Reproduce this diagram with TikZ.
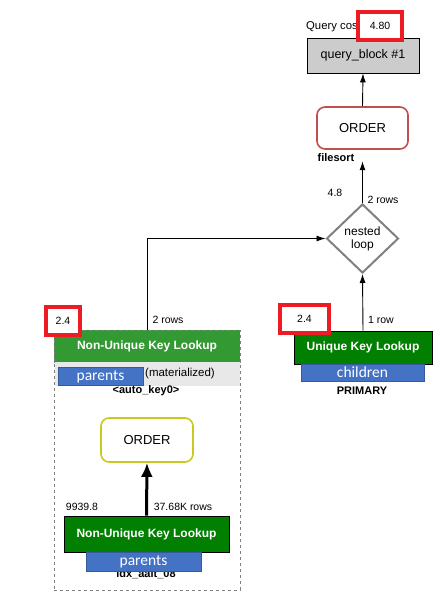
\documentclass[tikz,border=0pt]{standalone}
\usepackage{fontspec}
\setmainfont{Liberation Sans}
\newfontfamily\tblfont{Carlito}
\usetikzlibrary{shapes.geometric,arrows.meta}

\definecolor{costred}{HTML}{ED1C24}
\definecolor{sortred}{HTML}{C0504D}
\definecolor{sortyellow}{HTML}{C8C81E}
\definecolor{keygreen}{HTML}{007F00}
\definecolor{hdrgreen}{HTML}{339933}
\definecolor{tblblue}{HTML}{4472C4}
\definecolor{bandgray}{HTML}{E8E8E8}

\tikzset{
  lbl/.style={inner sep=0pt, font=\fontsize{10.5}{12}\selectfont},
  boldlbl/.style={inner sep=0pt, font=\bfseries\fontsize{11}{12}\selectfont},
  costbox/.style={draw=costred, line width=3.5pt, fill=white, font=\fontsize{10.5}{12}\selectfont},
  qbox/.style={draw=black, line width=0.8pt, fill=gray!40, minimum width=112pt, minimum height=35pt, font=\fontsize{12.5}{14}\selectfont},
  sortbox/.style={line width=1.6pt, rounded corners=8pt, fill=white, font=\fontsize{13}{15}\selectfont},
  keybox/.style={draw=black, line width=0.8pt, fill=keygreen, text=white, font=\bfseries\fontsize{12}{14}\selectfont},
  tblbox/.style={draw=tblblue!80!black, line width=0.5pt, fill=tblblue, text=white, inner sep=0pt, font=\tblfont\fontsize{15.5}{16}\selectfont},
  loopnode/.style={diamond, draw=gray, line width=2pt, fill=white, inner sep=0pt, align=center, minimum width=72pt, minimum height=69pt, font=\fontsize{12}{13}\selectfont},
  conn/.style={->, line width=0.9pt}
}

\begin{document}
\begin{tikzpicture}[x=1pt, y=-1pt, >={Latex[length=9pt,width=6pt]}]
  \useasboundingbox (0,0) rectangle (445,606);

  % top: query block and final sort
  \node[lbl, anchor=west, font=\fontsize{11.3}{13}\selectfont] (costlbl) at (306,27) {Query cost};
  \node[qbox] (qblock) at (363,55.5) {query\_block \#1};
  \node[sortbox, draw=sortred, minimum width=91pt, minimum height=42pt] (topsort) at (362.5,128) {ORDER};
  \node[boldlbl] (filesort) at (336,158) {filesort};
  \node[loopnode] (nestloop) at (362.5,238.5) {nested\\loop};
  \node[lbl] (loopcost) at (335,193) {4.8};
  \node[lbl] (looprows) at (383,200) {2 rows};

  % right branch
  \node[keybox, minimum width=138pt, minimum height=33pt] (pklookup) at (363,347.5) {Unique Key Lookup};
  \node[tblbox, minimum width=123pt, minimum height=17pt] (childtbl) at (362.5,372.5) {children};
  \node[boldlbl] (primary) at (362,391) {PRIMARY};
  \node[lbl] (pkrows) at (381,320) {1 row};

  % left branch (materialized subquery)
  \node[draw=gray, dashed, line width=0.8pt, minimum width=186pt, minimum height=260pt] (matgroup) at (147,460) {};
  \node[draw=gray, dashed, line width=0.8pt, fill=hdrgreen, text=white, font=\bfseries\fontsize{12}{14}\selectfont,
        minimum width=186pt, minimum height=32pt] (matlookup) at (147,346) {Non-Unique Key Lookup};
  \node[fill=bandgray, minimum width=185pt, minimum height=24pt, inner sep=0pt] (matband) at (147,374) {};
  \node[tblbox, minimum width=85pt, minimum height=18pt] (mattbl) at (100.5,376.5) {parents};
  \node[lbl, font=\fontsize{11.5}{13}\selectfont] (matnote) at (180,374) {(materialized)};
  \node[boldlbl] (autokey) at (146,391) {<auto\_key0>};
  \node[lbl] (matrows) at (168,320) {2 rows};

  \node[sortbox, draw=sortyellow, minimum width=92pt, minimum height=44pt] (innersort) at (147,440) {ORDER};
  \node[boldlbl] (idxname) at (146,574) {idx\_aalt\_08};
  \node[keybox, minimum width=165pt, minimum height=36pt] (idxlookup) at (146.5,534) {Non-Unique Key Lookup};
  \node[tblbox, minimum width=115pt, minimum height=19pt] (idxtbl) at (143.5,561.5) {parents};
  \node[lbl] (idxcost) at (82,507) {9939.8};
  \node[lbl] (idxrows) at (183,507) {37.68K rows};

  % connectors
  \draw[conn] (topsort.north) -- (qblock.south);
  \draw[conn] (nestloop.north) -- ([yshift=1pt]nestloop.north |- filesort.south);
  \draw[conn] (pklookup.north) -- (nestloop.south);
  \draw[conn] (matlookup.north) |- (nestloop.west);
  \draw[->, line width=3pt, >={Latex[length=14pt,width=12pt]}] (idxlookup.north) -- (innersort.south);

  % cost markers
  \node[costbox, minimum width=44pt, minimum height=28pt] (cost1) at (380,26) {4.80};
  \node[costbox, minimum width=49pt, minimum height=28pt] (cost2) at (304.5,319) {2.4};
  \node[costbox, minimum width=34pt, minimum height=28pt] (cost3) at (63,321) {2.4};
\end{tikzpicture}
\end{document}
